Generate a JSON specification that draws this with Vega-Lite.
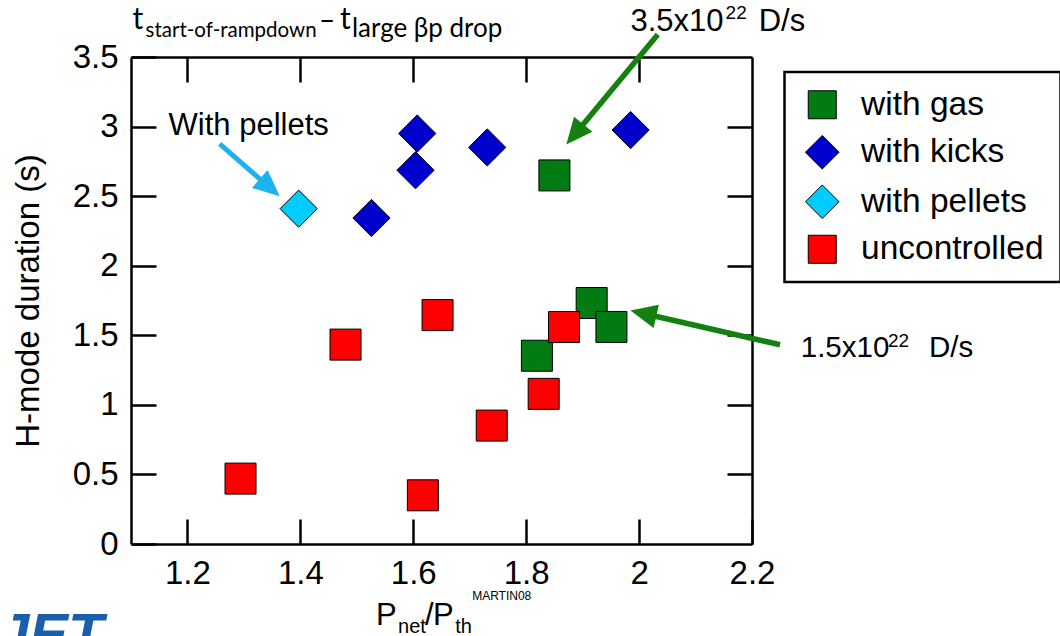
{
  "$schema": "https://vega.github.io/schema/vega-lite/v6.json",
  "width": 621,
  "height": 487,
  "autosize": {"type": "none"},
  "padding": {"left": 131, "top": 57, "right": 308, "bottom": 92},
  "background": "white",
  "config": {
    "view": {"stroke": null},
    "axis": {
      "domainColor": "black", "domainWidth": 2.5,
      "tickColor": "black", "tickWidth": 2.5, "tickSize": -25,
      "labelFont": "Liberation Sans", "labelFontSize": 33, "labelColor": "black",
      "labelPadding": 38, "labelFlush": false, "labelOverlap": false,
      "grid": false,
      "titleFont": "Liberation Sans", "titleFontSize": 33, "titleFontWeight": "normal", "titleColor": "black"
    }
  },
  "layer": [
    {
      "data": {"values": [
        {"P": 1.850, "D": 2.649, "series": "with gas"},
        {"P": 1.916, "D": 1.732, "series": "with gas"},
        {"P": 1.951, "D": 1.560, "series": "with gas"},
        {"P": 1.819, "D": 1.353, "series": "with gas"},
        {"P": 1.294, "D": 0.470, "series": "uncontrolled"},
        {"P": 1.480, "D": 1.433, "series": "uncontrolled"},
        {"P": 1.643, "D": 1.645, "series": "uncontrolled"},
        {"P": 1.617, "D": 0.350, "series": "uncontrolled"},
        {"P": 1.739, "D": 0.851, "series": "uncontrolled"},
        {"P": 1.831, "D": 1.079, "series": "uncontrolled"},
        {"P": 1.867, "D": 1.559, "series": "uncontrolled"},
        {"P": 1.526, "D": 2.343, "series": "with kicks"},
        {"P": 1.607, "D": 2.950, "series": "with kicks"},
        {"P": 1.604, "D": 2.686, "series": "with kicks"},
        {"P": 1.731, "D": 2.850, "series": "with kicks"},
        {"P": 1.985, "D": 2.975, "series": "with kicks"},
        {"P": 1.397, "D": 2.410, "series": "with pellets"}
      ]},
      "mark": {"type": "point", "filled": true, "opacity": 1, "size": 961, "stroke": "black", "strokeWidth": 1},
      "encoding": {
        "x": {"field": "P", "type": "quantitative",
              "scale": {"domain": [1.1, 2.2], "nice": false, "zero": false},
              "axis": {"orient": "bottom", "values": [1.2, 1.4, 1.6, 1.8, 2.0, 2.2], "format": "~g", "title": null}},
        "y": {"field": "D", "type": "quantitative",
              "scale": {"domain": [0, 3.5], "nice": false, "zero": false},
              "axis": {"orient": "left", "values": [0, 0.5, 1, 1.5, 2, 2.5, 3, 3.5], "format": "~g",
                       "title": "H-mode duration (s)", "titlePadding": 27}},
        "color": {"field": "series", "type": "nominal",
                  "scale": {"domain": ["with gas", "with kicks", "with pellets", "uncontrolled"],
                            "range": ["#027b12", "#0000cc", "#00ccff", "#ff0000"]},
                  "legend": {"title": null, "orient": "none", "legendX": 653.5, "legendY": 15,
                             "labelFont": "Liberation Sans", "labelFontSize": 33.5, "labelColor": "black", "labelLimit": 400,
                             "symbolSize": 784, "symbolStrokeColor": "black", "symbolStrokeWidth": 1, "symbolOpacity": 1,
                             "padding": 16, "rowPadding": 10.5, "symbolOffset": 5, "labelOffset": 22,
                             "strokeColor": "black", "fillColor": "white",
                             "encode": {"legend": {"update": {"strokeWidth": {"value": 2.5}}}}}},
        "shape": {"field": "series", "type": "nominal",
                  "scale": {"domain": ["with gas", "with kicks", "with pellets", "uncontrolled"],
                            "range": ["square", "M-1.2,0L0,-1.2L1.2,0L0,1.2Z", "M-1.2,0L0,-1.2L1.2,0L0,1.2Z", "square"]},
                  "legend": {"title": null, "orient": "none", "legendX": 653.5, "legendY": 15,
                             "labelFont": "Liberation Sans", "labelFontSize": 33.5, "labelColor": "black", "labelLimit": 400,
                             "symbolSize": 784, "symbolStrokeColor": "black", "symbolStrokeWidth": 1, "symbolOpacity": 1,
                             "padding": 16, "rowPadding": 10.5, "symbolOffset": 5, "labelOffset": 22,
                             "strokeColor": "black", "fillColor": "white",
                             "encode": {"legend": {"update": {"strokeWidth": {"value": 2.5}}}}}}
      }
    },
    {
      "data": {"values": [{"P": 1.5, "D": 1.0}]},
      "mark": {"type": "point", "opacity": 0},
      "encoding": {
        "x": {"field": "P", "type": "quantitative",
              "scale": {"domain": [1.1, 2.2], "nice": false, "zero": false},
              "axis": {"orient": "top", "values": [1.2, 1.4, 1.6, 1.8, 2.0], "labels": false, "title": null}},
        "y": {"field": "D", "type": "quantitative",
              "scale": {"domain": [0, 3.5], "nice": false, "zero": false},
              "axis": {"orient": "right", "values": [0.5, 1, 1.5, 2, 2.5, 3], "labels": false, "title": null}}
      }
    },
    {
      "data": {"values": [{"x": 1.2571, "y": 2.8755, "x2": 1.3367, "y2": 2.5928}]},
      "mark": {"type": "rule", "color": "#1cb2ee", "strokeWidth": 5, "strokeCap": "butt"},
      "encoding": {
        "x": {"field": "x", "type": "quantitative", "axis": null},
        "y": {"field": "y", "type": "quantitative", "axis": null},
        "x2": {"field": "x2"},
        "y2": {"field": "y2"}
      }
    },
    {
      "data": {"values": [
        {"x": 2.0331, "y": 3.6619, "x2": 1.8938, "y2": 2.9813},
        {"x": 2.2496, "y": 1.4317, "x2": 2.0193, "y2": 1.6460}
      ]},
      "mark": {"type": "rule", "color": "#13800f", "strokeWidth": 5.5, "strokeCap": "butt"},
      "encoding": {
        "x": {"field": "x", "type": "quantitative", "axis": null},
        "y": {"field": "y", "type": "quantitative", "axis": null},
        "x2": {"field": "x2"},
        "y2": {"field": "y2"}
      }
    },
    {
      "data": {"values": [{"x": 1.3635, "y": 2.4986}]},
      "mark": {"type": "point", "shape": "M0,0L-0.9,2L0.9,2Z", "size": 700, "filled": true, "opacity": 1, "color": "#1cb2ee", "angle": 131.1},
      "encoding": {
        "x": {"field": "x", "type": "quantitative", "axis": null},
        "y": {"field": "y", "type": "quantitative", "axis": null}
      }
    },
    {
      "data": {"values": [{"x": 1.8711, "y": 2.8705}]},
      "mark": {"type": "point", "shape": "M0,0L-0.9,2L0.9,2Z", "size": 700, "filled": true, "opacity": 1, "color": "#13800f", "angle": 219.7},
      "encoding": {
        "x": {"field": "x", "type": "quantitative", "axis": null},
        "y": {"field": "y", "type": "quantitative", "axis": null}
      }
    },
    {
      "data": {"values": [{"x": 1.9847, "y": 1.6784}]},
      "mark": {"type": "point", "shape": "M0,0L-0.9,2L0.9,2Z", "size": 700, "filled": true, "opacity": 1, "color": "#13800f", "angle": 282.9},
      "encoding": {
        "x": {"field": "x", "type": "quantitative", "axis": null},
        "y": {"field": "y", "type": "quantitative", "axis": null}
      }
    },
    {
      "data": {"values": [
        {"x": 1.1665, "y": 2.9424, "label": "With pellets"},
        {"x": 1.9847, "y": 3.6835, "label": "3.5x10"},
        {"x": 2.2118, "y": 3.6835, "label": "D/s"}
      ]},
      "mark": {"type": "text", "align": "left", "baseline": "alphabetic", "font": "Liberation Sans", "fontSize": 31, "color": "black"},
      "encoding": {
        "x": {"field": "x", "type": "quantitative", "axis": null},
        "y": {"field": "y", "type": "quantitative", "axis": null},
        "text": {"field": "label"}
      }
    },
    {
      "data": {"values": [
        {"x": 2.2863, "y": 1.3453, "label": "1.5x10"},
        {"x": 2.5135, "y": 1.3453, "label": "D/s"}
      ]},
      "mark": {"type": "text", "align": "left", "baseline": "alphabetic", "font": "Liberation Sans", "fontSize": 29.5, "color": "black"},
      "encoding": {
        "x": {"field": "x", "type": "quantitative", "axis": null},
        "y": {"field": "y", "type": "quantitative", "axis": null},
        "text": {"field": "label"}
      }
    },
    {
      "data": {"values": [
        {"x": 2.1532, "y": 3.7698, "label": "22"},
        {"x": 2.4407, "y": 1.4173, "label": "22"}
      ]},
      "mark": {"type": "text", "align": "left", "baseline": "alphabetic", "font": "Liberation Sans", "fontSize": 19, "color": "black"},
      "encoding": {
        "x": {"field": "x", "type": "quantitative", "axis": null},
        "y": {"field": "y", "type": "quantitative", "axis": null},
        "text": {"field": "label"}
      }
    },
    {
      "data": {"values": [
        {"x": 1.1027, "y": 3.6978, "label": "t"},
        {"x": 1.4700, "y": 3.6978, "label": "t"}
      ]},
      "mark": {"type": "text", "align": "left", "baseline": "alphabetic", "font": "Lato", "fontSize": 30, "color": "black"},
      "encoding": {
        "x": {"field": "x", "type": "quantitative", "axis": null},
        "y": {"field": "y", "type": "quantitative", "axis": null},
        "text": {"field": "label"}
      }
    },
    {
      "data": {"values": [
        {"x": 1.4330, "y": 3.6906, "label": "–"}
      ]},
      "mark": {"type": "text", "align": "left", "baseline": "alphabetic", "font": "Lato", "fontSize": 28, "color": "black"},
      "encoding": {
        "x": {"field": "x", "type": "quantitative", "axis": null},
        "y": {"field": "y", "type": "quantitative", "axis": null},
        "text": {"field": "label"}
      }
    },
    {
      "data": {"values": [
        {"x": 1.1257, "y": 3.6403, "label": "start-of-rampdown"}
      ]},
      "mark": {"type": "text", "align": "left", "baseline": "alphabetic", "font": "Lato", "fontSize": 20.5, "color": "black"},
      "encoding": {
        "x": {"field": "x", "type": "quantitative", "axis": null},
        "y": {"field": "y", "type": "quantitative", "axis": null},
        "text": {"field": "label"}
      }
    },
    {
      "data": {"values": [
        {"x": 1.4913, "y": 3.6403, "label": "large βp drop"}
      ]},
      "mark": {"type": "text", "align": "left", "baseline": "alphabetic", "font": "Lato", "fontSize": 26, "color": "black"},
      "encoding": {
        "x": {"field": "x", "type": "quantitative", "axis": null},
        "y": {"field": "y", "type": "quantitative", "axis": null},
        "text": {"field": "label"}
      }
    },
    {
      "data": {"values": [
        {"x": 1.5339, "y": -0.5827, "label": "P"},
        {"x": 1.6209, "y": -0.5827, "label": "/"},
        {"x": 1.6351, "y": -0.5827, "label": "P"}
      ]},
      "mark": {"type": "text", "align": "left", "baseline": "alphabetic", "font": "Liberation Sans", "fontSize": 31, "color": "black"},
      "encoding": {
        "x": {"field": "x", "type": "quantitative", "axis": null},
        "y": {"field": "y", "type": "quantitative", "axis": null},
        "text": {"field": "label"}
      }
    },
    {
      "data": {"values": [
        {"x": 1.5730, "y": -0.6403, "label": "net"},
        {"x": 1.6742, "y": -0.6403, "label": "th"}
      ]},
      "mark": {"type": "text", "align": "left", "baseline": "alphabetic", "font": "Liberation Sans", "fontSize": 20, "color": "black"},
      "encoding": {
        "x": {"field": "x", "type": "quantitative", "axis": null},
        "y": {"field": "y", "type": "quantitative", "axis": null},
        "text": {"field": "label"}
      }
    },
    {
      "data": {"values": [
        {"x": 1.7043, "y": -0.4029, "label": "MARTIN08"}
      ]},
      "mark": {"type": "text", "align": "left", "baseline": "alphabetic", "font": "Liberation Sans", "fontSize": 12, "color": "black"},
      "encoding": {
        "x": {"field": "x", "type": "quantitative", "axis": null},
        "y": {"field": "y", "type": "quantitative", "axis": null},
        "text": {"field": "label"}
      }
    },
    {
      "data": {"values": [
        {"x": 0.8626, "y": -0.788, "label": "JET"}
      ]},
      "mark": {"type": "text", "align": "left", "baseline": "alphabetic", "font": "Liberation Sans", "fontSize": 58, "fontWeight": "bold", "fontStyle": "italic", "color": "#1b5eab"},
      "encoding": {
        "x": {"field": "x", "type": "quantitative", "axis": null},
        "y": {"field": "y", "type": "quantitative", "axis": null},
        "text": {"field": "label"}
      }
    }
  ],
  "resolve": {"axis": {"x": "independent", "y": "independent"}}
}
